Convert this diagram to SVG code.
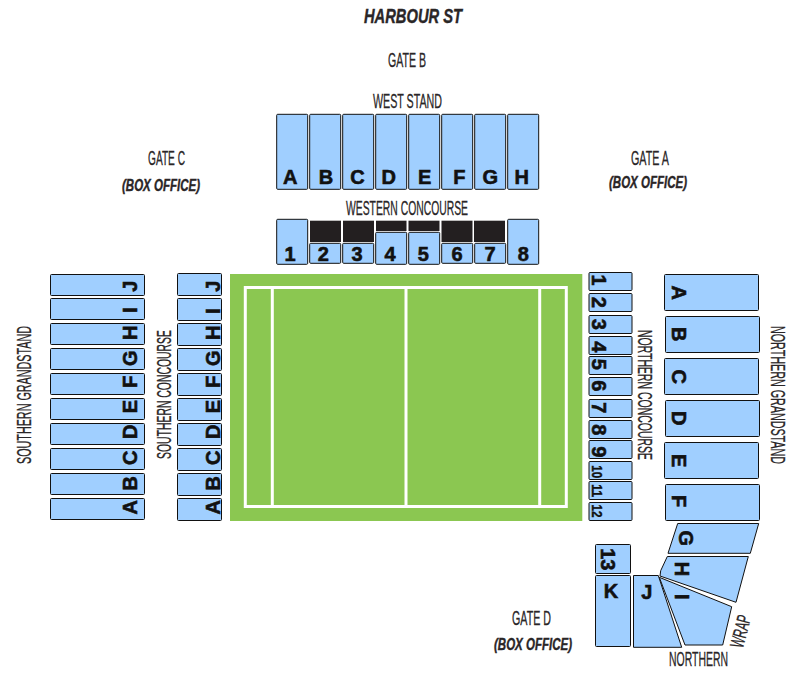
<svg xmlns="http://www.w3.org/2000/svg" width="803" height="676" viewBox="0 0 803 676">
<style>
.s{fill:#a0cfff;stroke:#111;stroke-width:1}
.k{fill:#231f20}
.l{font-family:"Liberation Sans",Arial,sans-serif;font-weight:bold;font-size:20px;fill:#111;text-anchor:middle;stroke:#111;stroke-width:.6}
.n{font-size:15px;stroke-width:.4}
.t{font-family:"Liberation Sans",Arial,sans-serif;font-size:19.500px;fill:#2a2627;text-anchor:middle;stroke:#2a2627;stroke-width:.3}
.b{font-weight:bold;font-style:italic;stroke-width:.4}
.o{font-size:16px}
.w{fill:none;stroke:#fff;stroke-width:3}
</style>
<rect width="803" height="676" fill="#fff"/>
<g id="labels">
<text class="t b" x="413" y="23" textLength="98" lengthAdjust="spacingAndGlyphs">HARBOUR ST</text>
<text class="t" x="407" y="67" textLength="38" lengthAdjust="spacingAndGlyphs">GATE B</text>
<text class="t" x="407.500" y="108" textLength="69" lengthAdjust="spacingAndGlyphs">WEST STAND</text>
<text class="t" x="407" y="215" textLength="122" lengthAdjust="spacingAndGlyphs">WESTERN CONCOURSE</text>
<text class="t" x="166.500" y="165" textLength="37" lengthAdjust="spacingAndGlyphs">GATE C</text>
<text class="t b o" x="161" y="191" textLength="78" lengthAdjust="spacingAndGlyphs">(BOX OFFICE)</text>
<text class="t" x="650" y="165" textLength="38" lengthAdjust="spacingAndGlyphs">GATE A</text>
<text class="t b o" x="648" y="188" textLength="78" lengthAdjust="spacingAndGlyphs">(BOX OFFICE)</text>
<text class="t" x="531.500" y="625" textLength="39" lengthAdjust="spacingAndGlyphs">GATE D</text>
<text class="t b o" x="533" y="650" textLength="78" lengthAdjust="spacingAndGlyphs">(BOX OFFICE)</text>
<text class="t" x="698.500" y="665.700" textLength="59" lengthAdjust="spacingAndGlyphs">NORTHERN</text>
<text class="t" transform="translate(747 633) rotate(-75)" textLength="33" lengthAdjust="spacingAndGlyphs">WRAP</text>
<text class="t" transform="translate(31 395) rotate(-90)" textLength="138" lengthAdjust="spacingAndGlyphs">SOUTHERN GRANDSTAND</text>
<text class="t" transform="translate(171 394.500) rotate(-90)" textLength="129" lengthAdjust="spacingAndGlyphs">SOUTHERN CONCOURSE</text>
<text class="t" transform="translate(637.700 395) rotate(90)" textLength="130" lengthAdjust="spacingAndGlyphs">NORTHERN CONCOURSE</text>
<text class="t" transform="translate(770.700 395) rotate(90)" textLength="138" lengthAdjust="spacingAndGlyphs">NORTHERN GRANDSTAND</text>
</g>
<g id="pitch">
<rect x="230" y="274" width="352.300" height="247" fill="#8bc751"/>
<rect class="w" x="245.300" y="287.500" width="321" height="219"/>
<path class="w" d="M272.300 287.500V506.500M406 287.500V506.500M539.700 287.500V506.500"/>
</g>
<g id="west-stand">
<g id="ws-a"><rect class="s" x="276.700" y="114.300" width="31" height="75" rx="1"/><text class="l" x="290.300" y="183.500">A</text></g>
<g id="ws-b"><rect class="s" x="309.700" y="114.300" width="31" height="75" rx="1"/><text class="l" x="326" y="183.500">B</text></g>
<g id="ws-c"><rect class="s" x="342.700" y="114.300" width="31" height="75" rx="1"/><text class="l" x="357.500" y="183.500">C</text></g>
<g id="ws-d"><rect class="s" x="375.700" y="114.300" width="31" height="75" rx="1"/><text class="l" x="388.700" y="183.500">D</text></g>
<g id="ws-e"><rect class="s" x="408.700" y="114.300" width="31" height="75" rx="1"/><text class="l" x="424.700" y="183.500">E</text></g>
<g id="ws-f"><rect class="s" x="441.700" y="114.300" width="31" height="75" rx="1"/><text class="l" x="459.300" y="183.500">F</text></g>
<g id="ws-g"><rect class="s" x="474.700" y="114.300" width="31" height="75" rx="1"/><text class="l" x="490.300" y="183.500">G</text></g>
<g id="ws-h"><rect class="s" x="507.700" y="114.300" width="31" height="75" rx="1"/><text class="l" x="521.700" y="183.500">H</text></g>
</g>
<g id="western-concourse">
<g id="wc-1"><rect class="s" x="276.700" y="219.300" width="31" height="45" rx="1"/><text class="l" x="290" y="261">1</text></g>
<g id="wc-2"><rect class="k" x="310" y="220.700" width="31" height="21.300"/><rect class="s" x="309.700" y="243.300" width="31" height="20" rx="1"/><text class="l" x="323.300" y="261">2</text></g>
<g id="wc-3"><rect class="k" x="343" y="220.700" width="31" height="21.300"/><rect class="s" x="342.700" y="243.300" width="31" height="20" rx="1"/><text class="l" x="357" y="261">3</text></g>
<g id="wc-4"><rect class="k" x="376" y="220.700" width="30.500" height="10.300"/><rect class="s" x="375.700" y="232.300" width="31" height="32" rx="1"/><text class="l" x="390" y="261">4</text></g>
<g id="wc-5"><rect class="k" x="408.500" y="220.700" width="31" height="10.300"/><rect class="s" x="408.700" y="232.300" width="31" height="32" rx="1"/><text class="l" x="423.300" y="261">5</text></g>
<g id="wc-6"><rect class="k" x="441.500" y="220.700" width="31" height="21.300"/><rect class="s" x="441.700" y="243.300" width="31" height="20" rx="1"/><text class="l" x="457" y="261">6</text></g>
<g id="wc-7"><rect class="k" x="474" y="220.700" width="31" height="21.300"/><rect class="s" x="474.700" y="243.300" width="31" height="20" rx="1"/><text class="l" x="490" y="261">7</text></g>
<g id="wc-8"><rect class="s" x="507.700" y="219.300" width="31" height="45" rx="1"/><text class="l" x="523.300" y="261">8</text></g>
</g>
<g id="southern-grandstand">
<g id="sg-j"><rect class="s" x="50.500" y="274.500" width="94" height="21" rx="1"/><text class="l" transform="translate(136.700 286.300) rotate(-90)">J</text></g>
<g id="sg-i"><rect class="s" x="50.500" y="298.500" width="94" height="21" rx="1"/><text class="l" transform="translate(136.700 310) rotate(-90)">I</text></g>
<g id="sg-h"><rect class="s" x="50.500" y="323.500" width="94" height="21" rx="1"/><text class="l" transform="translate(136.700 332.700) rotate(-90)">H</text></g>
<g id="sg-g"><rect class="s" x="50.500" y="348.500" width="94" height="21" rx="1"/><text class="l" transform="translate(136.700 358.300) rotate(-90)">G</text></g>
<g id="sg-f"><rect class="s" x="50.500" y="373.500" width="94" height="21" rx="1"/><text class="l" transform="translate(136.700 381.700) rotate(-90)">F</text></g>
<g id="sg-e"><rect class="s" x="50.500" y="398.500" width="94" height="21" rx="1"/><text class="l" transform="translate(136.700 406.700) rotate(-90)">E</text></g>
<g id="sg-d"><rect class="s" x="50.500" y="423.500" width="94" height="21" rx="1"/><text class="l" transform="translate(136.700 431.700) rotate(-90)">D</text></g>
<g id="sg-c"><rect class="s" x="50.500" y="448.500" width="94" height="21" rx="1"/><text class="l" transform="translate(136.700 457.700) rotate(-90)">C</text></g>
<g id="sg-b"><rect class="s" x="50.500" y="473.500" width="94" height="21" rx="1"/><text class="l" transform="translate(136.700 483.300) rotate(-90)">B</text></g>
<g id="sg-a"><rect class="s" x="50.500" y="498.500" width="94" height="21" rx="1"/><text class="l" transform="translate(136.700 507.300) rotate(-90)">A</text></g>
</g>
<g id="southern-concourse">
<g id="sc-j"><rect class="s" x="177.500" y="273.500" width="44" height="22" rx="1"/><text class="l" transform="translate(220 286.300) rotate(-90)">J</text></g>
<g id="sc-i"><rect class="s" x="177.500" y="298.500" width="44" height="22" rx="1"/><text class="l" transform="translate(220 311) rotate(-90)">I</text></g>
<g id="sc-h"><rect class="s" x="177.500" y="323.500" width="44" height="22" rx="1"/><text class="l" transform="translate(220 332.700) rotate(-90)">H</text></g>
<g id="sc-g"><rect class="s" x="177.500" y="348.500" width="44" height="22" rx="1"/><text class="l" transform="translate(220 358.300) rotate(-90)">G</text></g>
<g id="sc-f"><rect class="s" x="177.500" y="373.500" width="44" height="22" rx="1"/><text class="l" transform="translate(220 381.700) rotate(-90)">F</text></g>
<g id="sc-e"><rect class="s" x="177.500" y="398.500" width="44" height="22" rx="1"/><text class="l" transform="translate(220 406.700) rotate(-90)">E</text></g>
<g id="sc-d"><rect class="s" x="177.500" y="423.500" width="44" height="22" rx="1"/><text class="l" transform="translate(220 431.700) rotate(-90)">D</text></g>
<g id="sc-c"><rect class="s" x="177.500" y="448.500" width="44" height="22" rx="1"/><text class="l" transform="translate(220 457.700) rotate(-90)">C</text></g>
<g id="sc-b"><rect class="s" x="177.500" y="473.500" width="44" height="22" rx="1"/><text class="l" transform="translate(220 483.300) rotate(-90)">B</text></g>
<g id="sc-a"><rect class="s" x="177.500" y="498.500" width="44" height="22" rx="1"/><text class="l" transform="translate(220 507.300) rotate(-90)">A</text></g>
</g>
<g id="northern-concourse">
<g id="nc-1"><rect class="s" x="589" y="272.500" width="43" height="18" rx="1"/><text class="l" transform="translate(592.300 280) rotate(90)">1</text></g>
<g id="nc-2"><rect class="s" x="589" y="293.500" width="43" height="18" rx="1"/><text class="l" transform="translate(592.300 302.300) rotate(90)">2</text></g>
<g id="nc-3"><rect class="s" x="589" y="315.500" width="43" height="18" rx="1"/><text class="l" transform="translate(592.300 324.300) rotate(90)">3</text></g>
<g id="nc-4"><rect class="s" x="589" y="336.500" width="43" height="18" rx="1"/><text class="l" transform="translate(592.300 346.700) rotate(90)">4</text></g>
<g id="nc-5"><rect class="s" x="589" y="356.500" width="43" height="18" rx="1"/><text class="l" transform="translate(592.300 364.300) rotate(90)">5</text></g>
<g id="nc-6"><rect class="s" x="589" y="377.500" width="43" height="18" rx="1"/><text class="l" transform="translate(592.300 385.700) rotate(90)">6</text></g>
<g id="nc-7"><rect class="s" x="589" y="399.500" width="43" height="18" rx="1"/><text class="l" transform="translate(592.300 407.700) rotate(90)">7</text></g>
<g id="nc-8"><rect class="s" x="589" y="420.500" width="43" height="18" rx="1"/><text class="l" transform="translate(592.300 429.700) rotate(90)">8</text></g>
<g id="nc-9"><rect class="s" x="589" y="440.500" width="43" height="18" rx="1"/><text class="l" transform="translate(592.300 451.700) rotate(90)">9</text></g>
<g id="nc-10"><rect class="s" x="589" y="461.500" width="43" height="18" rx="1"/><text class="l n" transform="translate(592.300 471.700) rotate(90)" textLength="13" lengthAdjust="spacingAndGlyphs">10</text></g>
<g id="nc-11"><rect class="s" x="589" y="481.500" width="43" height="18" rx="1"/><text class="l n" transform="translate(592.300 490.700) rotate(90)" textLength="13" lengthAdjust="spacingAndGlyphs">11</text></g>
<g id="nc-12"><rect class="s" x="589" y="502.500" width="43" height="18" rx="1"/><text class="l n" transform="translate(592.300 511) rotate(90)" textLength="13" lengthAdjust="spacingAndGlyphs">12</text></g>
<g id="nc-13"><rect class="s" x="595.500" y="544.500" width="35" height="29" rx="1"/><text class="l" transform="translate(601 559.300) rotate(90)">13</text></g>
</g>
<g id="northern-grandstand">
<g id="ng-a"><rect class="s" x="664.500" y="274.500" width="94" height="36" rx="1"/><text class="l" transform="translate(671.700 292.700) rotate(90)">A</text></g>
<g id="ng-b"><rect class="s" x="665.500" y="316.500" width="94" height="36" rx="1"/><text class="l" transform="translate(671.700 334.300) rotate(90)">B</text></g>
<g id="ng-c"><rect class="s" x="664.500" y="358.500" width="94" height="36" rx="1"/><text class="l" transform="translate(671.700 376.700) rotate(90)">C</text></g>
<g id="ng-d"><rect class="s" x="665.500" y="400.500" width="94" height="36" rx="1"/><text class="l" transform="translate(671.700 418.300) rotate(90)">D</text></g>
<g id="ng-e"><rect class="s" x="664.500" y="442.500" width="94" height="36" rx="1"/><text class="l" transform="translate(671.700 460.700) rotate(90)">E</text></g>
<g id="ng-f"><rect class="s" x="665.500" y="484.500" width="94" height="36" rx="1"/><text class="l" transform="translate(671.700 501) rotate(90)">F</text></g>
<g id="ng-g"><polygon class="s" points="677.700,523.500 758.700,523.500 750.300,553.300 668,553.300"/><text class="l" transform="translate(679 538.300) rotate(90)">G</text></g>
<g id="ng-h"><polygon class="s" points="667.300,556.500 748.300,556.500 736,602.300 660,576 660.700,570.700"/><text class="l" transform="translate(675.300 569) rotate(90)">H</text></g>
<g id="ng-i"><polygon class="s" points="659.300,577.300 731.700,606.700 722.700,645 685,645"/><text class="l" transform="translate(675.300 596.700) rotate(90)">I</text></g>
<g id="ng-j"><polygon class="s" points="633.500,575.500 658.300,575.500 681.700,647.300 633.500,647.300"/><text class="l" x="646.700" y="599.300">J</text></g>
<g id="ng-k"><rect class="s" x="595.500" y="575.500" width="35" height="71" rx="1"/><text class="l" x="611" y="597.700">K</text></g>
</g>
<g id="connectors"/>
</svg>
